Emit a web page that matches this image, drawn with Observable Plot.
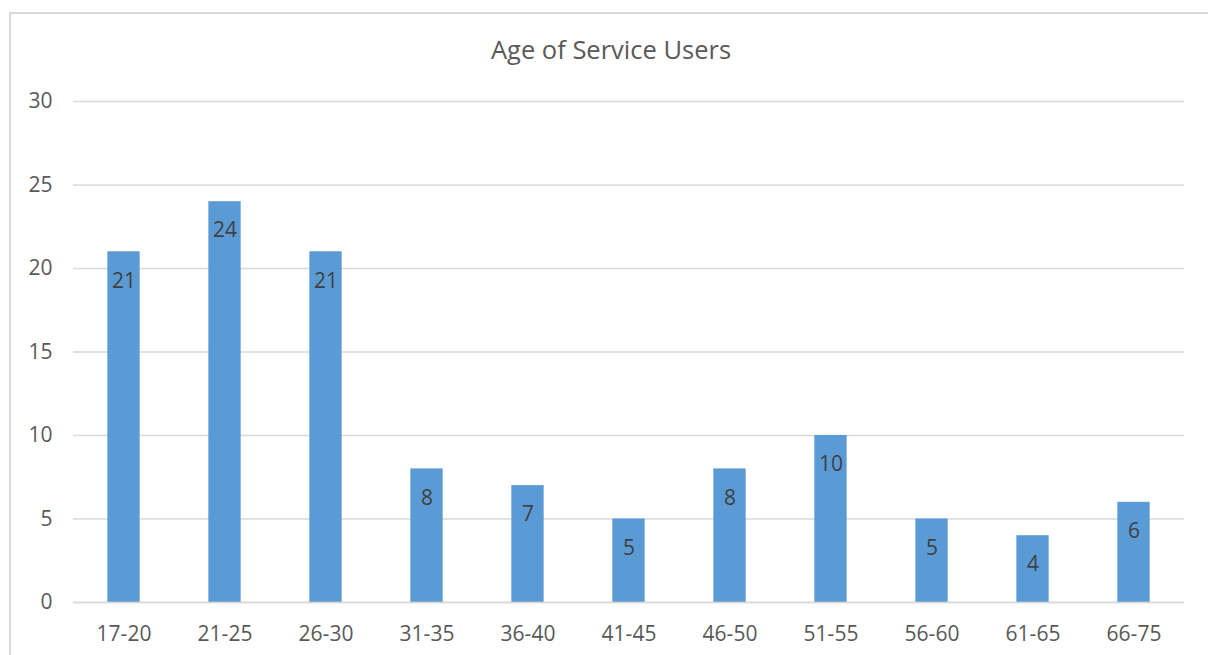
<!DOCTYPE html>
<html>
<head>
<meta charset="utf-8">
<script src="https://cdn.jsdelivr.net/npm/d3@7"></script>
<script src="https://cdn.jsdelivr.net/npm/@observablehq/plot@0.6"></script>
<style>
  html, body { margin: 0; padding: 0; background: #fff; }
  #frame {
    position: relative;
    width: 1208px;
    height: 655px;
    overflow: hidden;
    font-family: "Open Sans", sans-serif;
  }
  #border {
    position: absolute;
    left: 9px;
    top: 12px;
    right: -10px;
    bottom: -10px;
    border-left: 2px solid #d9d9d9;
    border-top: 2px solid #d9d9d9;
    pointer-events: none;
  }
  #title {
    box-sizing: border-box;
    width: 1208px;
    height: 70px;
    padding: 31px 0 0 14px;
    line-height: 36px;
    font-size: 25.5px;
    color: #595959;
    text-align: center;
  }
  #chart svg { display: block; }
</style>
</head>
<body>
<div id="frame">
  <div id="border"></div>
  <div id="title">Age of Service Users</div>
  <div id="chart"></div>
</div>
<script>
// Age bands and number of service users in each
const ageBands = ["17-20", "21-25", "26-30", "31-35", "36-40", "41-45", "46-50", "51-55", "56-60", "61-65", "66-75"];
const userCounts = [21, 24, 21, 8, 7, 5, 8, 10, 5, 4, 6];
const yTicks = [0, 5, 10, 15, 20, 25, 30];

const rows = ageBands.map((band, i) => ({band, count: userCounts[i]}));

const chart = Plot.plot({
  width: 1208,
  height: 585,
  marginTop: 31,
  marginBottom: 53,
  marginLeft: 73,
  marginRight: 24,
  style: {fontFamily: "Open Sans, sans-serif", fontSize: "21px", color: "#595959", background: "transparent"},
  x: {domain: ageBands, paddingInner: 0.68, paddingOuter: 0.34, round: false, label: null},
  y: {domain: [0, 30], label: null},
  marks: [
    Plot.gridY(yTicks, {stroke: "#d9d9d9", strokeOpacity: 1, strokeWidth: 1.5}),
    Plot.barY(rows, {x: "band", y: "count", fill: "#5b9bd5"}),
    Plot.ruleY([0], {stroke: "#d9d9d9", strokeWidth: 1.5}),
    Plot.text(rows, {x: "band", y: "count", text: d => String(d.count), dy: 29, fill: "#404040", fontSize: 21}),
    Plot.axisX({tickSize: 0, tickPadding: 24, label: null}),
    Plot.axisY(yTicks, {tickSize: 0, tickPadding: 21, label: null})
  ]
});
document.getElementById("chart").appendChild(chart);
</script>
</body>
</html>
